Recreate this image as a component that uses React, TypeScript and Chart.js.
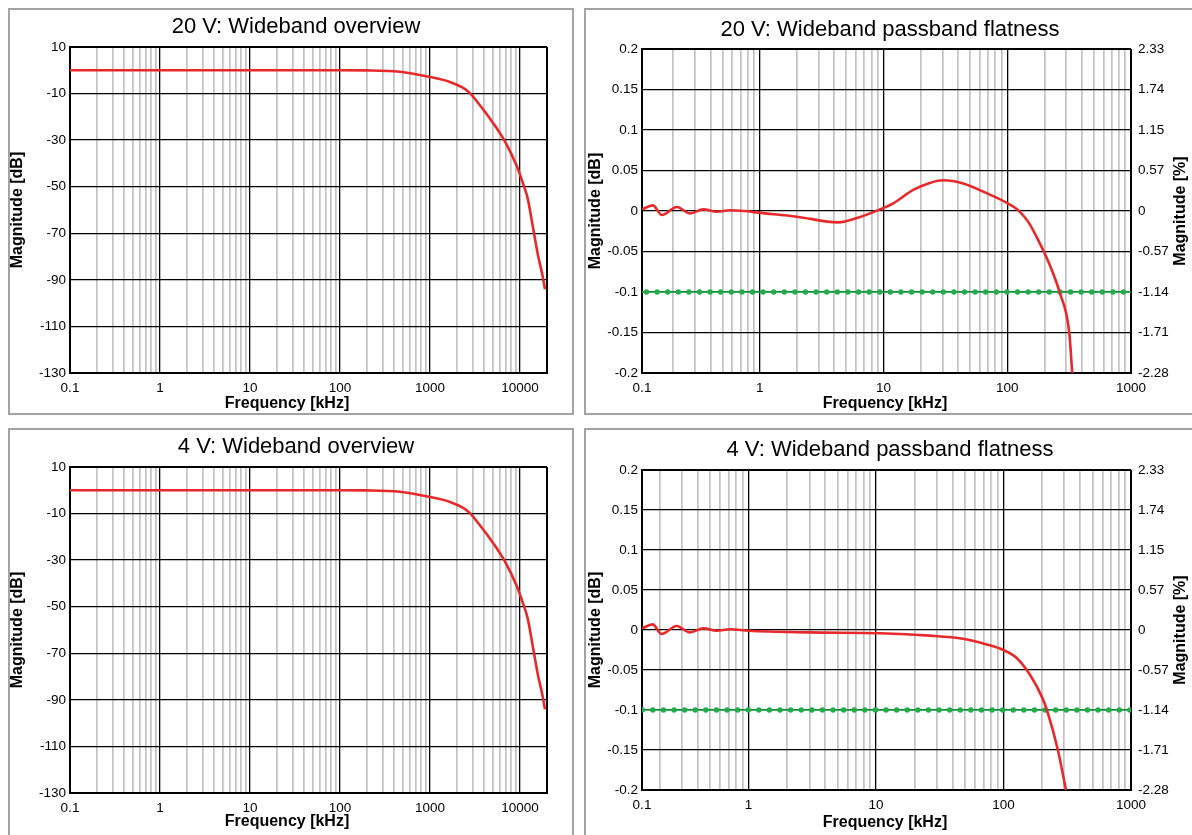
import React, { useEffect, useRef } from 'react';
import { Chart, registerables } from 'chart.js';

Chart.register(...registerables);

const FONT = "'Liberation Sans', Arial, Helvetica, sans-serif";

// ---- Data (frequency in kHz, magnitude in dB) ----
const overviewFreq20V = [0.1, 1, 10, 100, 200, 464, 1000, 1670, 2340, 2780, 3590, 4760, 6810, 9200, 10700, 12200, 13900, 15800, 17800, 19000];
const overviewDb20V = [0, 0, 0, 0, -0.05, -0.6, -2.9, -5, -7.6, -9.8, -15, -21.3, -30.5, -41, -48, -55, -67, -79, -88, -94];

const overviewFreq4V = [0.1, 1, 10, 100, 200, 464, 1000, 1670, 2340, 2780, 3590, 4760, 6810, 9200, 10700, 12200, 13900, 15800, 17800, 19000];
const overviewDb4V = [0, 0, 0, 0, -0.05, -0.6, -2.9, -5, -7.6, -9.8, -15, -21.3, -30.5, -41, -48, -55, -67, -79, -88, -94];

const flatFreq20V = [0.112, 0.137, 0.162, 0.214, 0.274, 0.35, 0.449, 0.575, 0.75, 0.974, 2, 4.31, 6.3, 9.37, 12, 17.4, 24, 30.4, 44.1, 68.1, 100.7, 126.6, 150, 172.7, 221, 266, 317, 335];
const flatDb20V = [0.002, 0.007, -0.005, 0.005, -0.003, 0.002, -0.001, 0.001, 0.0, -0.002, -0.007, -0.014, -0.008, 0.002, 0.0095, 0.026, 0.035, 0.038, 0.034, 0.022, 0.0095, -0.001, -0.015, -0.032, -0.067, -0.101, -0.15, -0.2];

const flatFreq4V = [0.146, 0.177, 0.208, 0.273, 0.347, 0.442, 0.563, 0.715, 1, 3, 10.7, 26.5, 48.1, 73.7, 99.6, 126.8, 161.3, 199.2, 219, 267, 309];
const flatDb4V = [0.002, 0.007, -0.005, 0.005, -0.003, 0.002, -0.001, 0.001, -0.001, -0.003, -0.004, -0.007, -0.011, -0.018, -0.025, -0.035, -0.056, -0.083, -0.1, -0.15, -0.2];

const limitFreq = [0.1, 1000];
const limitDb = [-0.1, -0.1];

// ---- Axes / tick labels ----
const overviewYTicks = [-130, -110, -90, -70, -50, -30, -10, 10];
const overviewYLabels = ['-130', '-110', '-90', '-70', '-50', '-30', '-10', '10'];
const overviewXRange = [0.1, 20000];
const overviewXMajor = [0.1, 1, 10, 100, 1000, 10000];
const overviewXLabels = ['0.1', '1', '10', '100', '1000', '10000'];

const flatYTicks = [-0.2, -0.15, -0.1, -0.05, 0, 0.05, 0.1, 0.15, 0.2];
const flatYLabels = ['-0.2', '-0.15', '-0.1', '-0.05', '0', '0.05', '0.1', '0.15', '0.2'];
const flatPctLabels = ['-2.28', '-1.71', '-1.14', '-0.57', '0', '0.57', '1.15', '1.74', '2.33'];
const flat20VXRange = [0.112, 1000];
const flat4VXRange = [0.146, 1000];
const flatXMajor = [1, 10, 100, 1000];
const flatXFirstLabel = '0.1';
const flatXLabels = ['1', '10', '100', '1000'];

const RED = '#e8292b';
const GREEN = '#22ad4b';

function near(a: number, b: number) {
  return Math.abs(a - b) <= Math.abs(b) * 1e-6 + 1e-12;
}
function isDecade(v: number) {
  const l = Math.log10(v);
  return Math.abs(l - Math.round(l)) < 1e-6;
}
function logTicks(min: number, max: number) {
  const vals: number[] = [min];
  const k0 = Math.floor(Math.log10(min));
  const k1 = Math.ceil(Math.log10(max));
  for (let k = k0; k <= k1; k++) {
    for (let m = 1; m <= 9; m++) {
      const v = parseFloat((m * Math.pow(10, k)).toPrecision(8));
      if (v > min * 1.0001 && v < max * 0.9999) vals.push(v);
    }
  }
  vals.push(max);
  return vals;
}

type TextItem = { text: string; x: number; y: number; font: string; rot?: number };

type PanelSpec = {
  kind: 'overview' | 'flat';
  box: { left: number; top: number; width: number; height: number };
  plot: { l: number; r: number; t: number; b: number };
  texts: TextItem[];
  xRange: number[];
  xMajor: number[];
  xLabels: string[];
  xFirstLabel?: string;
  freq: number[];
  db: number[];
};

const TITLE_FONT = `22px ${FONT}`;
const AXIS_FONT = `bold 16px ${FONT}`;

function buildTexts(title: string, t: [number, number], xt: [number, number], yt: [number, number], y2t?: [number, number]): TextItem[] {
  const items: TextItem[] = [
    { text: title, x: t[0], y: t[1], font: TITLE_FONT },
    { text: 'Frequency [kHz]', x: xt[0], y: xt[1], font: AXIS_FONT },
    { text: 'Magnitude [dB]', x: yt[0], y: yt[1], font: AXIS_FONT, rot: -Math.PI / 2 },
  ];
  if (y2t) items.push({ text: 'Magnitude [%]', x: y2t[0], y: y2t[1], font: AXIS_FONT, rot: -Math.PI / 2 });
  return items;
}

const panels: PanelSpec[] = [
  {
    kind: 'overview',
    box: { left: 0, top: 0, width: 566, height: 407 },
    plot: { l: 60, r: 537, t: 37, b: 363 },
    texts: buildTexts('20 V: Wideband overview', [286, 17], [277, 394], [8, 200]),
    xRange: overviewXRange,
    xMajor: overviewXMajor,
    xLabels: overviewXLabels,
    freq: overviewFreq20V,
    db: overviewDb20V,
  },
  {
    kind: 'flat',
    box: { left: 576, top: 0, width: 626, height: 407 },
    plot: { l: 56, r: 545, t: 39, b: 363 },
    texts: buildTexts('20 V: Wideband passband flatness', [304, 20], [299, 394], [10, 201], [595, 201]),
    xRange: flat20VXRange,
    xMajor: flatXMajor,
    xLabels: flatXLabels,
    xFirstLabel: flatXFirstLabel,
    freq: flatFreq20V,
    db: flatDb20V,
  },
  {
    kind: 'overview',
    box: { left: 0, top: 420, width: 566, height: 412 },
    plot: { l: 60, r: 537, t: 37, b: 363 },
    texts: buildTexts('4 V: Wideband overview', [286, 17], [277, 392], [8, 200]),
    xRange: overviewXRange,
    xMajor: overviewXMajor,
    xLabels: overviewXLabels,
    freq: overviewFreq4V,
    db: overviewDb4V,
  },
  {
    kind: 'flat',
    box: { left: 576, top: 420, width: 626, height: 412 },
    plot: { l: 56, r: 545, t: 40, b: 360 },
    texts: buildTexts('4 V: Wideband passband flatness', [304, 20], [299, 393], [10, 200], [595, 200]),
    xRange: flat4VXRange,
    xMajor: flatXMajor,
    xLabels: flatXLabels,
    xFirstLabel: flatXFirstLabel,
    freq: flatFreq4V,
    db: flatDb4V,
  },
];

function ChartPanel({ spec }: { spec: PanelSpec }) {
  const ref = useRef<HTMLCanvasElement | null>(null);
  const cw = spec.box.width - 4;
  const ch = spec.box.height - 4;

  useEffect(() => {
    const canvas = ref.current;
    if (!canvas) return;
    const { plot } = spec;
    const isFlat = spec.kind === 'flat';
    const yTicks = isFlat ? flatYTicks : overviewYTicks;
    const yLabels = isFlat ? flatYLabels : overviewYLabels;
    const xTicks = logTicks(spec.xRange[0], spec.xRange[1]);

    const textPlugin = {
      id: 'panelText',
      afterDraw(chart: any) {
        const ctx = chart.ctx as CanvasRenderingContext2D;
        spec.texts.forEach((it) => {
          ctx.save();
          ctx.font = it.font;
          ctx.fillStyle = '#000';
          ctx.textAlign = 'center';
          ctx.textBaseline = 'middle';
          ctx.translate(it.x, it.y);
          if (it.rot) ctx.rotate(it.rot);
          ctx.fillText(it.text, 0, 0);
          ctx.restore();
        });
      },
    };

    const tickFont = { family: FONT, size: 13.5 };

    const datasets: any[] = [
      {
        label: 'response',
        data: spec.freq.map((f, i) => ({ x: f, y: spec.db[i] })),
        borderColor: RED,
        borderWidth: 2.6,
        pointRadius: 0,
        fill: false,
        cubicInterpolationMode: 'monotone',
        yAxisID: 'y',
      },
    ];
    if (isFlat) {
      datasets.push({
        label: 'limit',
        data: limitFreq.map((f, i) => ({ x: f, y: limitDb[i] })),
        borderColor: GREEN,
        borderWidth: 1.6,
        pointRadius: 0,
        fill: false,
        yAxisID: 'y',
      });
      datasets.push({
        label: 'limit dots',
        data: limitFreq.map((f, i) => ({ x: f, y: limitDb[i] })),
        borderColor: GREEN,
        borderWidth: 5.5,
        borderDash: [0, 10.6],
        borderCapStyle: 'round',
        pointRadius: 0,
        fill: false,
        yAxisID: 'y',
      });
    }

    const scales: any = {
      x: {
        type: 'logarithmic',
        position: 'bottom',
        min: spec.xRange[0],
        max: spec.xRange[1],
        afterBuildTicks: (scale: any) => {
          scale.ticks = xTicks.map((v) => ({ value: v }));
        },
        afterFit: (scale: any) => {
          scale.height = ch - plot.b;
        },
        ticks: {
          autoSkip: false,
          maxRotation: 0,
          minRotation: 0,
          padding: 7,
          color: '#000',
          font: tickFont,
          callback: (value: any, index: number) => {
            const v = Number(value);
            if (index === 0 && spec.xFirstLabel) return spec.xFirstLabel;
            const k = spec.xMajor.findIndex((m) => near(v, m));
            return k >= 0 ? spec.xLabels[k] : '';
          },
        },
        grid: {
          drawTicks: false,
          color: (ctx: any) => {
            const n = ctx.scale.ticks.length;
            if (ctx.index === 0 || ctx.index === n - 1) return '#000';
            return isDecade(ctx.tick.value) ? '#000' : '#c2c2c2';
          },
          lineWidth: (ctx: any) => {
            const n = ctx.scale.ticks.length;
            if (ctx.index === 0 || ctx.index === n - 1) return 2;
            return isDecade(ctx.tick.value) ? 1.3 : 1.7;
          },
        },
        border: { display: true, color: '#000', width: 2 },
      },
      y: {
        type: 'linear',
        position: 'left',
        min: yTicks[0],
        max: yTicks[yTicks.length - 1],
        afterBuildTicks: (scale: any) => {
          scale.ticks = yTicks.map((v) => ({ value: v }));
        },
        afterFit: (scale: any) => {
          scale.width = plot.l;
        },
        ticks: {
          padding: 4,
          color: '#000',
          font: tickFont,
          callback: (value: any) => {
            const k = yTicks.findIndex((t) => Math.abs(t - Number(value)) < 1e-9);
            return k >= 0 ? yLabels[k] : '';
          },
        },
        grid: {
          drawTicks: false,
          color: '#000',
          lineWidth: (ctx: any) => (ctx.index === yTicks.length - 1 ? 2 : 1.3),
        },
        border: { display: true, color: '#000', width: 2 },
      },
    };

    if (isFlat) {
      scales.y2 = {
        type: 'linear',
        position: 'right',
        min: yTicks[0],
        max: yTicks[yTicks.length - 1],
        afterBuildTicks: (scale: any) => {
          scale.ticks = yTicks.map((v) => ({ value: v }));
        },
        afterFit: (scale: any) => {
          scale.width = cw - plot.r;
        },
        ticks: {
          padding: 7,
          color: '#000',
          font: tickFont,
          callback: (value: any) => {
            const k = yTicks.findIndex((t) => Math.abs(t - Number(value)) < 1e-9);
            return k >= 0 ? flatPctLabels[k] : '';
          },
        },
        grid: { display: false, drawTicks: false },
        border: { display: false },
      };
    }

    const chart = new Chart(canvas, {
      type: 'line',
      data: { datasets },
      options: {
        animation: false,
        responsive: false,
        maintainAspectRatio: false,
        devicePixelRatio: 1,
        layout: {
          padding: { top: plot.t, left: 0, right: isFlat ? 0 : cw - plot.r, bottom: 0 },
        },
        plugins: {
          legend: { display: false },
          title: { display: false },
          tooltip: { enabled: false },
        },
        scales,
      } as any,
      plugins: [textPlugin as any],
    });
    return () => chart.destroy();
  }, [spec, cw, ch]);

  return (
    <div
      style={{
        position: 'absolute',
        left: spec.box.left,
        top: spec.box.top,
        width: spec.box.width,
        height: spec.box.height,
        border: '2px solid #a3a3a3',
        boxSizing: 'border-box',
        background: '#fff',
      }}
    >
      <canvas ref={ref} width={cw} height={ch} style={{ display: 'block', width: cw, height: ch }} />
    </div>
  );
}

export default function App() {
  return (
    <div style={{ position: 'fixed', left: 8, top: 8, width: 1184, height: 827, overflow: 'hidden', background: '#fff' }}>
      {panels.map((p, i) => (
        <ChartPanel key={i} spec={p} />
      ))}
    </div>
  );
}
